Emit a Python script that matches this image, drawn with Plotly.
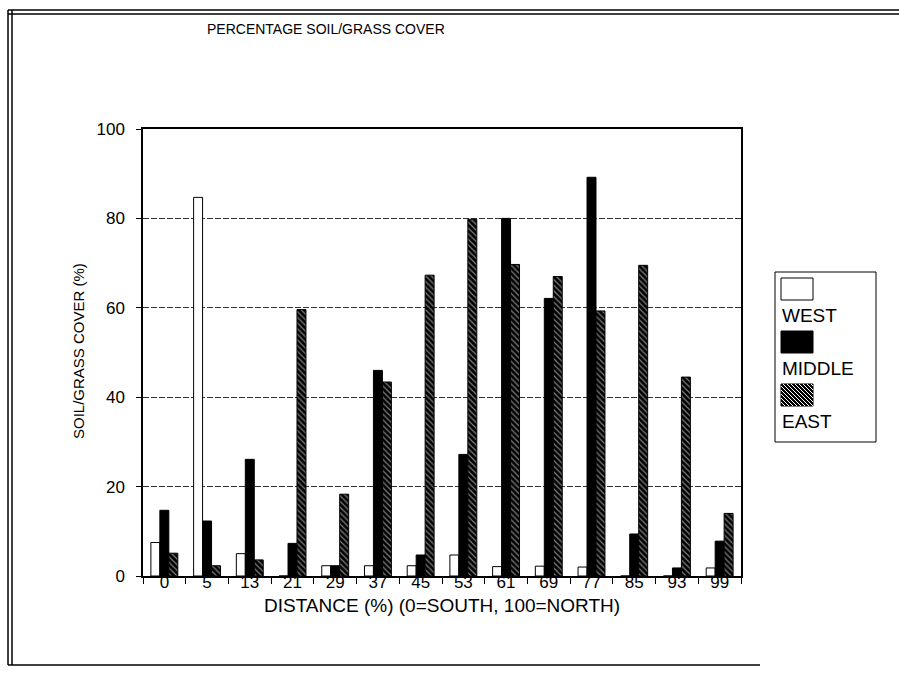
import plotly.graph_objects as go

# Distance along the transect (% from south to north)
distance = ["0", "5", "13", "21", "29", "37", "45", "53", "61", "69", "77", "85", "93", "99"]

# Soil/grass cover (%) for each strip of the transect
west = [7.5, 84.7, 5.0, 0.0, 2.3, 2.3, 2.3, 4.7, 2.1, 2.2, 2.0, 0.0, 0.0, 1.8]
middle = [14.7, 12.3, 26.1, 7.3, 2.3, 46.0, 4.7, 27.2, 80.0, 62.1, 89.2, 9.4, 1.8, 7.8]
east = [5.1, 2.3, 3.6, 59.6, 18.3, 43.4, 67.3, 79.8, 69.7, 67.0, 59.3, 69.5, 44.5, 14.0]

y_ticks = [0, 20, 40, 60, 80, 100]

FONT = "Liberation Sans, Arial, sans-serif"

# plot-area geometry in pixels
W_FIG, H_FIG = 899, 679
L, R, T, B = 143, 741, 129, 576
PW, PH = R - L, B - T


def px(x):
    return (x - L) / PW


def py(y):
    return (B - y) / PH


fig = go.Figure()

fig.add_trace(go.Bar(
    name="WEST", x=distance, y=west,
    marker=dict(color="white", line=dict(color="black", width=1)),
))
fig.add_trace(go.Bar(
    name="MIDDLE", x=distance, y=middle,
    marker=dict(color="black", line=dict(color="black", width=1)),
))
fig.add_trace(go.Bar(
    name="EAST", x=distance, y=east,
    marker=dict(
        color="black", line=dict(color="black", width=1),
        pattern=dict(shape="\\", fgcolor="white", bgcolor="black",
                     size=4, solidity=0.3, fillmode="overlay"),
    ),
))

shapes = []
annotations = []

# chart title
annotations.append(dict(
    text="PERCENTAGE SOIL/GRASS COVER", x=px(205), y=py(29),
    xref="paper", yref="paper", xanchor="left", yanchor="middle",
    showarrow=False, font=dict(family=FONT, size=14, color="black"),
))

# axis titles
annotations.append(dict(
    text="DISTANCE (%) (0=SOUTH, 100=NORTH)", x=0.5, y=py(605),
    xref="paper", yref="paper", xanchor="center", yanchor="middle",
    showarrow=False, font=dict(family=FONT, size=19, color="black"),
))
annotations.append(dict(
    text="SOIL/GRASS COVER (%)", x=px(78), y=py(351), textangle=-90,
    xref="paper", yref="paper", xanchor="center", yanchor="middle",
    showarrow=False, font=dict(family=FONT, size=15, color="black"),
))

# legend: swatch above each label
lx0, lx1, ly0, ly1 = 775, 876, 272, 442
shapes.append(dict(type="rect", xref="paper", yref="paper",
                   x0=px(lx0), x1=px(lx1), y0=py(ly1), y1=py(ly0),
                   line=dict(color="black", width=1), fillcolor="white"))

items = [("WEST", "white"), ("MIDDLE", "black"), ("EAST", "hatch")]
sw_x0, sw_x1 = 781, 813
sw_tops = [278, 331, 384]
for (label, fill), top in zip(items, sw_tops):
    bot = top + 22
    shapes.append(dict(type="rect", xref="paper", yref="paper",
                       x0=px(sw_x0), x1=px(sw_x1), y0=py(bot), y1=py(top),
                       line=dict(color="black", width=1),
                       fillcolor="white" if fill == "white" else "black"))
    if fill == "hatch":
        segs = []
        step = 4
        for k in range(-22, 34, step):
            xa, ya = sw_x0 + k, top
            xb, yb = sw_x0 + k + 22, bot
            # clip segment to swatch
            if xa < sw_x0:
                ya += sw_x0 - xa
                xa = sw_x0
            if xb > sw_x1:
                yb -= xb - sw_x1
                xb = sw_x1
            if xa >= xb:
                continue
            segs.append(f"M{px(xa)},{py(ya)} L{px(xb)},{py(yb)}")
        shapes.append(dict(type="path", xref="paper", yref="paper",
                           path=" ".join(segs),
                           line=dict(color="white", width=1)))
    annotations.append(dict(
        text=label, x=px(sw_x0 - 1), y=py(bot + 15),
        xref="paper", yref="paper", xanchor="left", yanchor="middle",
        showarrow=False, font=dict(family=FONT, size=19, color="black"),
    ))

# outer frame of the figure
frame = dict(color="black", width=1.5)
for yy in (10, 14):
    shapes.append(dict(type="line", xref="paper", yref="paper",
                       x0=px(8), x1=px(899), y0=py(yy), y1=py(yy), line=frame))
for xx in (8, 12):
    shapes.append(dict(type="line", xref="paper", yref="paper",
                       x0=px(xx), x1=px(xx), y0=py(10), y1=py(665), line=frame))
shapes.append(dict(type="line", xref="paper", yref="paper",
                   x0=px(8), x1=px(760), y0=py(665), y1=py(665), line=frame))

fig.update_layout(
    width=W_FIG, height=H_FIG,
    margin=dict(l=L, r=W_FIG - R, t=T, b=H_FIG - B, pad=0),
    paper_bgcolor="white", plot_bgcolor="white",
    barmode="group", bargap=0.37, bargroupgap=0,
    showlegend=False,
    font=dict(family=FONT, color="black"),
    shapes=shapes, annotations=annotations,
)

fig.update_xaxes(
    type="category", categoryorder="array", categoryarray=distance,
    showline=True, mirror=True, linecolor="black", linewidth=1.5,
    ticks="outside", tickson="boundaries", ticklen=6, tickcolor="black",
    ticklabelstandoff=-10,
    showgrid=False, tickfont=dict(family=FONT, size=17, color="black"),
)
fig.update_yaxes(
    range=[0, 100], tickvals=y_ticks,
    showline=True, mirror=True, linecolor="black", linewidth=1.5,
    ticks="outside", ticklen=5, tickcolor="black", ticklabelstandoff=8,
    showgrid=True, gridcolor="#333", gridwidth=1, griddash="6px,2px",
    zeroline=False, tickfont=dict(family=FONT, size=17, color="black"),
)

fig.write_html("out.html")
